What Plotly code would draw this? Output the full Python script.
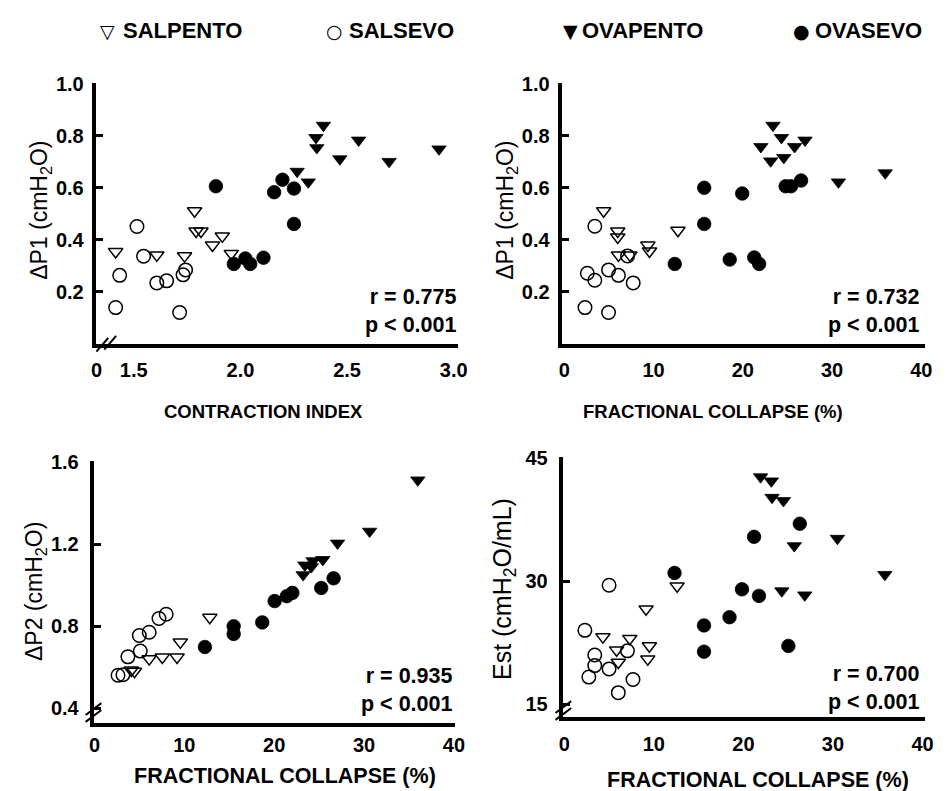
import plotly.graph_objects as go

W, H = 946, 791
FONT = "Liberation Sans, Arial, Helvetica, sans-serif"

groups = ["SALPENTO", "SALSEVO", "OVAPENTO", "OVASEVO"]
legend_symbols = ["\u25BD", "\u25CB", "\u25BC", "\u25CF"]

# ---------------- Panel A: contraction index vs dP1 ----------------
a_salpento_x = [1.415, 1.608, 1.738, 1.785, 1.792, 1.815, 1.869, 1.915, 1.957]
a_salpento_y = [0.354, 0.341, 0.338, 0.511, 0.433, 0.433, 0.379, 0.414, 0.347]
a_salsevo_x = [1.415, 1.434, 1.515, 1.546, 1.608, 1.654, 1.715, 1.731, 1.743]
a_salsevo_y = [0.139, 0.263, 0.451, 0.337, 0.234, 0.242, 0.120, 0.265, 0.284]
a_ovapento_x = [2.389, 2.354, 2.358, 2.466, 2.554, 2.697, 2.931, 2.266, 2.318]
a_ovapento_y = [0.840, 0.793, 0.754, 0.711, 0.783, 0.701, 0.749, 0.663, 0.622]
a_ovasevo_x = [1.885, 1.969, 2.023, 2.046, 2.108, 2.158, 2.197, 2.251, 2.251]
a_ovasevo_y = [0.606, 0.307, 0.328, 0.307, 0.331, 0.583, 0.631, 0.597, 0.461]

# ---------------- Panel B: fractional collapse vs dP1 ----------------
b_salpento_x = [4.40, 5.98, 5.98, 6.06, 7.34, 9.36, 9.54, 12.73]
b_salpento_y = [0.511, 0.433, 0.410, 0.341, 0.341, 0.379, 0.356, 0.436]
b_salsevo_x = [2.31, 2.57, 3.41, 3.41, 4.95, 4.95, 6.06, 7.08, 7.71]
b_salsevo_y = [0.139, 0.271, 0.452, 0.244, 0.284, 0.120, 0.263, 0.338, 0.234]
b_ovapento_x = [23.38, 24.33, 22.02, 23.12, 24.59, 25.80, 26.97, 30.72, 35.96]
b_ovapento_y = [0.840, 0.793, 0.758, 0.703, 0.716, 0.758, 0.783, 0.622, 0.657]
b_ovasevo_x = [15.67, 15.67, 12.37, 18.53, 19.93, 21.28, 21.83, 24.8, 25.4, 26.53]
b_ovasevo_y = [0.600, 0.461, 0.307, 0.324, 0.578, 0.332, 0.307, 0.606, 0.606, 0.628]

# ---------------- Panel C: fractional collapse vs dP2 ----------------
c_salpento_x = [4.10, 4.45, 6.09, 7.55, 9.19, 9.55, 12.83]
c_salpento_y = [0.585, 0.579, 0.640, 0.648, 0.648, 0.722, 0.842]
c_salsevo_x = [2.62, 3.17, 3.72, 4.99, 5.10, 6.09, 7.18, 7.98]
c_salsevo_y = [0.560, 0.563, 0.650, 0.754, 0.678, 0.770, 0.837, 0.858]
c_ovapento_x = [35.98, 30.62, 27.05, 25.41, 24.32, 23.41, 23.22, 24.13]
c_ovapento_y = [1.512, 1.262, 1.204, 1.124, 1.118, 1.097, 1.050, 1.089]
c_ovasevo_x = [12.29, 15.49, 15.49, 18.67, 20.05, 21.40, 22.02, 25.23, 26.61]
c_ovasevo_y = [0.698, 0.799, 0.762, 0.818, 0.922, 0.946, 0.962, 0.986, 1.033]

# ---------------- Panel D: fractional collapse vs Est ----------------
d_salpento_x = [4.31, 5.84, 6.03, 7.31, 9.13, 9.50, 9.32, 12.60]
d_salpento_y = [23.2, 21.6, 20.1, 23.0, 26.6, 22.1, 20.5, 29.4]
d_salsevo_x = [2.30, 2.74, 3.40, 3.40, 5.00, 5.00, 6.03, 7.05, 7.67]
d_salsevo_y = [24.0, 18.3, 21.0, 19.7, 19.3, 29.5, 16.4, 21.5, 18.0]
d_ovapento_x = [21.92, 23.12, 23.20, 24.47, 25.68, 30.50, 35.80, 24.29, 26.85]
d_ovapento_y = [42.7, 42.2, 40.2, 39.8, 34.3, 35.2, 30.8, 28.8, 28.3]
d_ovasevo_x = [12.31, 15.60, 15.60, 18.45, 19.84, 21.19, 21.74, 25.02, 26.30]
d_ovasevo_y = [31.0, 24.6, 21.4, 25.6, 29.0, 35.4, 28.2, 22.1, 37.0]

stats = ["r = 0.775<br>p < 0.001", "r = 0.732<br>p < 0.001",
         "r = 0.935<br>p < 0.001", "r = 0.700<br>p < 0.001"]

x_titles = ["CONTRACTION INDEX", "FRACTIONAL COLLAPSE (%)",
            "FRACTIONAL COLLAPSE (%)", "FRACTIONAL COLLAPSE (%)"]
y_titles = ["\u0394P1 (cmH<sub>2</sub>O)", "\u0394P1 (cmH<sub>2</sub>O)",
            "\u0394P2 (cmH<sub>2</sub>O)", "Est (cmH<sub>2</sub>O/mL)"]

a_xticks = [1.325, 1.5, 2.0, 2.5, 3.0]
a_xticktext = ["0", "1.5", "2.0", "2.5", "3.0"]
fc_ticks = [0, 10, 20, 30, 40]
dp1_ticks = [0.2, 0.4, 0.6, 0.8, 1.0]
dp2_ticks = [0.4, 0.8, 1.2, 1.6]
est_ticks = [15, 30, 45]


def px(x):
    return x / W


def py(y):
    return 1 - y / H


styles = {
    "SALPENTO": dict(symbol="triangle-down-open", size=12.5, color="black", line=dict(width=1.5, color="black")),
    "SALSEVO": dict(symbol="circle-open", size=13.5, color="black", line=dict(width=1.5, color="black")),
    "OVAPENTO": dict(symbol="triangle-down", size=12.5, color="black", line=dict(width=0.8, color="black")),
    "OVASEVO": dict(symbol="circle", size=13.5, color="black", line=dict(width=0.8, color="black")),
}

panels = [
    ("x", "y", [(a_salpento_x, a_salpento_y), (a_salsevo_x, a_salsevo_y), (a_ovapento_x, a_ovapento_y), (a_ovasevo_x, a_ovasevo_y)]),
    ("x2", "y2", [(b_salpento_x, b_salpento_y), (b_salsevo_x, b_salsevo_y), (b_ovapento_x, b_ovapento_y), (b_ovasevo_x, b_ovasevo_y)]),
    ("x3", "y3", [(c_salpento_x, c_salpento_y), (c_salsevo_x, c_salsevo_y), (c_ovapento_x, c_ovapento_y), (c_ovasevo_x, c_ovasevo_y)]),
    ("x4", "y4", [(d_salpento_x, d_salpento_y), (d_salsevo_x, d_salsevo_y), (d_ovapento_x, d_ovapento_y), (d_ovasevo_x, d_ovasevo_y)]),
]

fig = go.Figure()
for xa, ya, series in panels:
    for g, (xs, ys) in zip(groups, series):
        fig.add_trace(go.Scatter(x=xs, y=ys, mode="markers", name=g, xaxis=xa, yaxis=ya,
                                 marker=styles[g], showlegend=False, cliponaxis=False))

# pixel boxes of the four plot areas: (left, right, top, bottom)
boxes = [(92, 460, 74, 338), (566, 935, 74, 338), (90, 457, 457, 722), (567, 935, 453, 716)]
x_ranges = [[1.325, 3.021], [-0.22, 40.44], [0, 40.15], [-0.1, 40.3]]
y_ranges = [[0, 1.003], [0, 1.003], [0.328, 1.604], [13.44, 45.1]]
x_tickvals = [a_xticks, fc_ticks, fc_ticks, fc_ticks]
x_ticktexts = [a_xticktext, [str(v) for v in fc_ticks], [str(v) for v in fc_ticks], [str(v) for v in fc_ticks]]
y_tickvals = [dp1_ticks, dp1_ticks, dp2_ticks, est_ticks]
y_ticktexts = [["%.1f" % v for v in dp1_ticks], ["%.1f" % v for v in dp1_ticks],
               ["%.1f" % v for v in dp2_ticks], [str(v) for v in est_ticks]]
x_standoff = [6, 6, 1, 6]
y_standoff = [5, 5, 8, 8]

layout = dict(width=W, height=H, margin=dict(l=0, r=0, t=0, b=0),
              paper_bgcolor="white", plot_bgcolor="white",
              font=dict(family=FONT, color="black"), showlegend=False)

names = ["", "2", "3", "4"]
for i, n in enumerate(names):
    l, r, t, b = boxes[i]
    layout["xaxis" + n] = dict(domain=[px(l), px(r)], range=x_ranges[i], anchor="y" + n,
                               showline=True, linecolor="black", linewidth=3.5,
                               showgrid=False, zeroline=False, ticks="",
                               tickmode="array", tickvals=x_tickvals[i], ticktext=x_ticktexts[i],
                               tickfont=dict(size=20, weight="bold", family=FONT),
                               ticklabelstandoff=x_standoff[i], fixedrange=True)
    layout["yaxis" + n] = dict(domain=[py(b), py(t)], range=y_ranges[i], anchor="x" + n,
                               showline=True, linecolor="black", linewidth=3.5,
                               showgrid=False, zeroline=False, ticks="inside", ticklen=7,
                               tickwidth=2.5, tickcolor="black",
                               tickmode="array", tickvals=y_tickvals[i], ticktext=y_ticktexts[i],
                               tickfont=dict(size=20, weight="bold", family=FONT),
                               ticklabelstandoff=y_standoff[i], fixedrange=True)

ann = []
# stats
stat_pos = [(460, 304.5), (931, 304.5), (456, 688.5), (931, 686.5)]
for s, (x, y) in zip(stats, stat_pos):
    ann.append(dict(text=s, x=px(x), y=py(y), xref="paper", yref="paper", xanchor="right",
                    yanchor="middle", align="right", showarrow=False,
                    font=dict(size=21.5, weight="bold", family=FONT)))
# x titles
xt_pos = [(262, 407, 18.5), (719, 407, 18.5), (284, 776, 21.5), (765, 780, 21.5)]
for s, (x, y, fs) in zip(x_titles, xt_pos):
    ann.append(dict(text=s, x=px(x), y=py(y), xref="paper", yref="paper", xanchor="center",
                    yanchor="middle", showarrow=False, font=dict(size=fs, weight="bold", family=FONT)))
# y titles
yt_pos = [(35, 203, 23), (509, 203, 23), (30, 589, 23), (506, 586, 25)]
for s, (x, y, fs) in zip(y_titles, yt_pos):
    ann.append(dict(text=s, x=px(x), y=py(y), xref="paper", yref="paper", xanchor="center",
                    yanchor="middle", textangle=-90, showarrow=False, font=dict(size=fs, family=FONT)))
# legend (text)
sym_x = [103, 334.5, 574, 809]
txt_x = [117, 347, 584, 821]
for sym, g, sx, tx in zip(legend_symbols, groups, sym_x, txt_x):
    ann.append(dict(text=sym, x=px(sx), y=py(21), xref="paper", yref="paper", xanchor="center",
                    yanchor="middle", showarrow=False, font=dict(size=19, family="DejaVu Sans")))
    ann.append(dict(text=g, x=px(tx), y=py(21), xref="paper", yref="paper", xanchor="left",
                    yanchor="middle", showarrow=False, font=dict(size=22, weight="bold", family=FONT)))
layout["annotations"] = ann

# axis-break marks (//)
shapes = []
breaks = [((98, 339), (106, 337), 6, 7), ((89, 708), (89, 715), 8, 6), ((567, 706), (567, 713), 8, 6)]
for c1, c2, dx, dy in breaks:
    for cx, cy in (c1, c2):
        shapes.append(dict(type="line", xref="paper", yref="paper",
                           x0=px(cx - dx), y0=py(cy + dy), x1=px(cx + dx), y1=py(cy - dy),
                           line=dict(color="black", width=2)))
layout["shapes"] = shapes

fig.update_layout(**layout)
fig.write_html("out.html", config={"displayModeBar": False},
               post_script="document.body.style.margin='0';")
